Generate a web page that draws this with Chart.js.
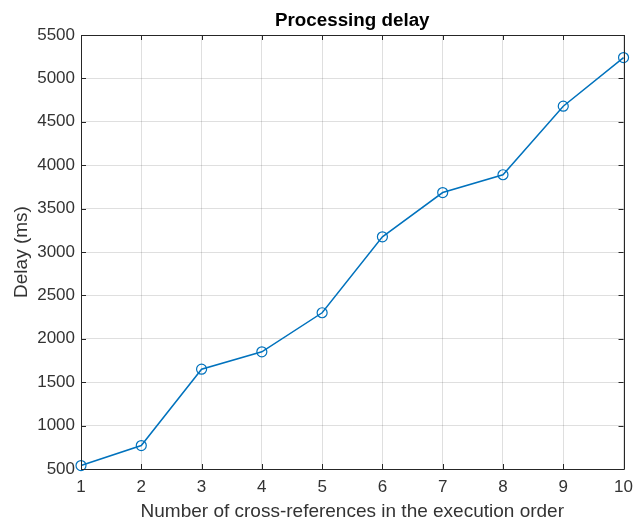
<!DOCTYPE html>
<html>
<head>
<meta charset="utf-8">
<script src="https://cdn.jsdelivr.net/npm/chart.js@4.4.1/dist/chart.umd.min.js"></script>
<style>
html,body{margin:0;padding:0;background:#fff;}
#wrap{width:641px;height:523px;}
</style>
</head>
<body>
<div id="wrap"><canvas id="c" width="641" height="523"></canvas></div>
<script>
const categories = [1, 2, 3, 4, 5, 6, 7, 8, 9, 10];
const delayMs = [540, 770, 1650, 1850, 2300, 3175, 3685, 3890, 4680, 5240];
const yTicks = [500, 1000, 1500, 2000, 2500, 3000, 3500, 4000, 4500, 5000, 5500];
const xTicks = [1, 2, 3, 4, 5, 6, 7, 8, 9, 10];
const titleText = 'Processing delay';
const xTitle = 'Number of cross-references in the execution order';
const yTitle = 'Delay (ms)';

const axisColor = '#262626';
const fontFamily = '"Liberation Sans", Arial, Helvetica, sans-serif';

const boxPlugin = {
  id: 'matlabBox',
  afterDraw(chart) {
    const {ctx, chartArea: a, scales} = chart;
    ctx.save();
    ctx.strokeStyle = axisColor;
    ctx.lineWidth = 1;
    ctx.beginPath();
    ctx.rect(Math.round(a.left) + 0.5, Math.round(a.top) + 0.5, Math.round(a.right - a.left), Math.round(a.bottom - a.top));
    ctx.stroke();
    const tl = 5;
    ctx.beginPath();
    xTicks.forEach(v => {
      const x = Math.round(scales.x.getPixelForValue(v)) + 0.5;
      ctx.moveTo(x, a.bottom); ctx.lineTo(x, a.bottom - tl);
      ctx.moveTo(x, a.top); ctx.lineTo(x, a.top + tl);
    });
    yTicks.forEach(v => {
      const y = Math.round(scales.y.getPixelForValue(v)) + 0.5;
      ctx.moveTo(a.left, y); ctx.lineTo(a.left + tl, y);
      ctx.moveTo(a.right, y); ctx.lineTo(a.right - tl, y);
    });
    ctx.stroke();
    // title
    ctx.fillStyle = '#000';
    ctx.font = 'bold 18.8px ' + fontFamily;
    ctx.textAlign = 'center';
    ctx.textBaseline = 'alphabetic';
    ctx.fillText(titleText, (a.left + a.right) / 2, 26);
    ctx.restore();
  }
};

new Chart(document.getElementById('c'), {
  type: 'line',
  data: {
    datasets: [{
      data: categories.map((x, i) => ({x: x, y: delayMs[i]})),
      borderColor: '#0072BD',
      borderWidth: 1.5,
      backgroundColor: 'rgba(0,0,0,0)',
      pointStyle: 'circle',
      pointRadius: 5,
      pointBorderWidth: 1.2,
      pointBorderColor: '#0072BD',
      pointBackgroundColor: 'rgba(0,0,0,0)',
      tension: 0,
      clip: false
    }]
  },
  options: {
    responsive: false,
    animation: false,
    devicePixelRatio: 1,
    layout: {padding: {top: 35, right: 9, bottom: 0, left: 0}},
    plugins: {legend: {display: false}, tooltip: {enabled: false}, title: {display: false}},
    scales: {
      x: {
        type: 'linear', min: 1, max: 10,
        afterBuildTicks: s => { s.ticks = xTicks.map(v => ({value: v})); },
        afterFit: s => { s.height = 54; },
        grid: {color: 'rgba(38,38,38,0.15)', drawTicks: false, lineWidth: 1},
        border: {display: false},
        ticks: {color: '#333', font: {family: fontFamily, size: 17}, padding: 8, maxRotation: 0, autoSkip: false,
                callback: v => String(v)},
        title: {display: true, text: xTitle, color: '#333', font: {family: fontFamily, size: 19}, padding: {top: 0, bottom: 0}}
      },
      y: {
        type: 'linear', min: 500, max: 5500,
        afterBuildTicks: s => { s.ticks = yTicks.map(v => ({value: v})); },
        afterFit: s => { s.width = 81; },
        grid: {color: 'rgba(38,38,38,0.15)', drawTicks: false, lineWidth: 1},
        border: {display: false},
        ticks: {color: '#333', font: {family: fontFamily, size: 17}, padding: 6, autoSkip: false,
                callback: v => String(v)},
        title: {display: true, text: yTitle, color: '#333', font: {family: fontFamily, size: 19}, padding: {top: 10, bottom: 0}}
      }
    }
  },
  plugins: [boxPlugin]
});
</script>
</body>
</html>
